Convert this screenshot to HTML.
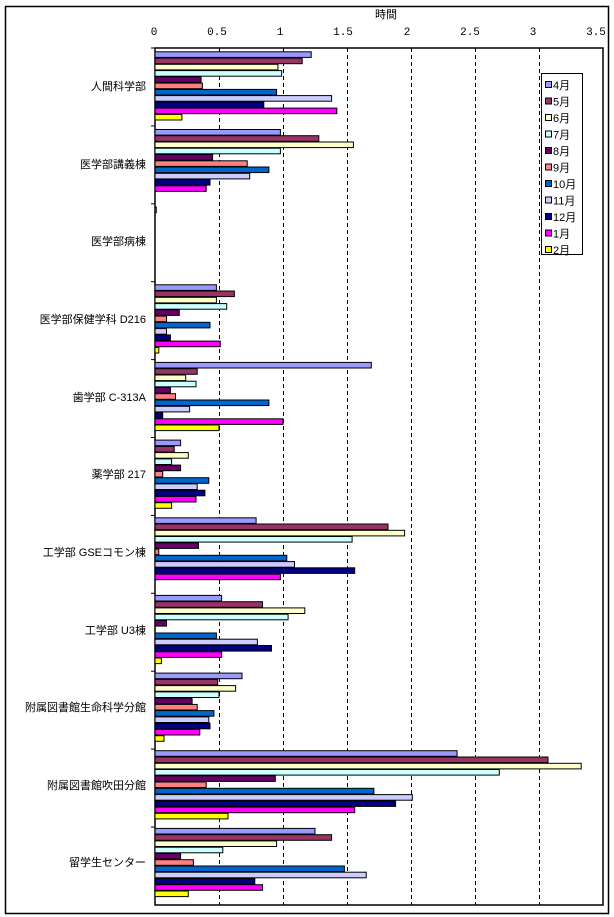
<!DOCTYPE html>
<html><head><meta charset="utf-8"><style>
html,body{margin:0;padding:0;background:#fff}
svg{display:block;font-family:"Liberation Sans","Noto Sans CJK JP",sans-serif}
</style></head><body>
<svg id="s" width="614" height="917" xmlns="http://www.w3.org/2000/svg">
<rect x="5.5" y="6.5" width="603" height="907" fill="#fff" stroke="#000" stroke-width="1.5"/>
<text x="386" y="18" font-size="11" text-anchor="middle">時間</text>
<g font-size="11" text-anchor="middle" font-family="Liberation Mono,monospace">
<text x="154" y="35">0</text><text x="217" y="35">0.5</text><text x="280" y="35">1</text><text x="343" y="35">1.5</text><text x="407" y="35">2</text><text x="470" y="35">2.5</text><text x="533" y="35">3</text><text x="596" y="35">3.5</text>
</g>
<rect x="155" y="48" width="448" height="857" fill="#fff" stroke="#000" stroke-width="1.5"/>
<g id="grid" stroke="#000" stroke-dasharray="4,3" stroke-width="1"></g>
<g id="bars" stroke="#000" stroke-width="1"></g>
<g font-size="11" text-anchor="end">
<text x="146" y="90">人間科学部</text>
<text x="146" y="168">医学部講義棟</text>
<text x="146" y="245">医学部病棟</text>
<text x="146" y="323">医学部保健学科 D216</text>
<text x="146" y="401">歯学部 C-313A</text>
<text x="146" y="478">薬学部 217</text>
<text x="146" y="556">工学部 GSEコモン棟</text>
<text x="146" y="634">工学部 U3棟</text>
<text x="146" y="711">附属図書館生命科学分館</text>
<text x="146" y="789">附属図書館吹田分館</text>
<text x="146" y="866">留学生センター</text>
</g>
<rect x="541.5" y="73.5" width="41" height="181" fill="#fff" stroke="#000"/>
<g id="leg" font-size="11"></g>
</svg>
<script>
var cols=["#9999ff","#993366","#ffffcc","#ccffff","#660066","#ff8080","#0066cc","#ccccff","#000080","#ff00ff","#ffff00"];
var names=["4月","5月","6月","7月","8月","9月","10月","11月","12月","1月","2月"];
var d=[
[1.22,1.15,0.96,0.99,0.36,0.37,0.95,1.38,0.85,1.42,0.21],
[0.98,1.28,1.55,0.98,0.45,0.72,0.89,0.74,0.43,0.40,0],
[0.01,0,0,0,0,0,0,0,0,0,0],
[0.48,0.62,0.48,0.56,0.19,0.09,0.43,0.09,0.12,0.51,0.03],
[1.69,0.33,0.24,0.32,0.12,0.16,0.89,0.27,0.06,1.0,0.5],
[0.2,0.15,0.26,0.13,0.2,0.06,0.42,0.33,0.39,0.32,0.13],
[0.79,1.82,1.95,1.54,0.34,0.03,1.03,1.09,1.56,0.98,0],
[0.52,0.84,1.17,1.04,0.09,0,0.48,0.8,0.91,0.52,0.05],
[0.68,0.49,0.63,0.5,0.29,0.33,0.46,0.42,0.43,0.35,0.07],
[2.36,3.07,3.33,2.69,0.94,0.40,1.71,2.01,1.88,1.56,0.57],
[1.25,1.38,0.95,0.53,0.2,0.3,1.48,1.65,0.78,0.84,0.26]];
var ns="http://www.w3.org/2000/svg";
function el(p,t,a){var e=document.createElementNS(ns,t);for(var k in a)e.setAttribute(k,a[k]);p.appendChild(e);return e;}
var g=document.getElementById("grid");
for(var i=1;i<7;i++){var x=155+64*i+0.5;el(g,"line",{x1:x,x2:x,y1:48,y2:905});}
var b=document.getElementById("bars");
for(var c=0;c<11;c++){
 var t=51.8+77.66*c;
 el(b,"line",{x1:151,x2:155,y1:(48+77.9*c).toFixed(1),y2:(48+77.9*c).toFixed(1)});
 for(var j=0;j<11;j++){var v=d[c][j];if(v<=0)continue;
  el(b,"rect",{x:155,y:(t+6.26*j).toFixed(1),width:(v*128).toFixed(1),height:5.6,fill:cols[j]});}
}
var l=document.getElementById("leg");
for(var j=0;j<11;j++){var y=78+16.5*j;
 el(l,"rect",{x:545.5,y:y+3.5,width:6,height:6,fill:cols[j],stroke:"#000"});
 var tx=el(l,"text",{x:553,y:y+11});tx.textContent=names[j];}
</script>
</body></html>
